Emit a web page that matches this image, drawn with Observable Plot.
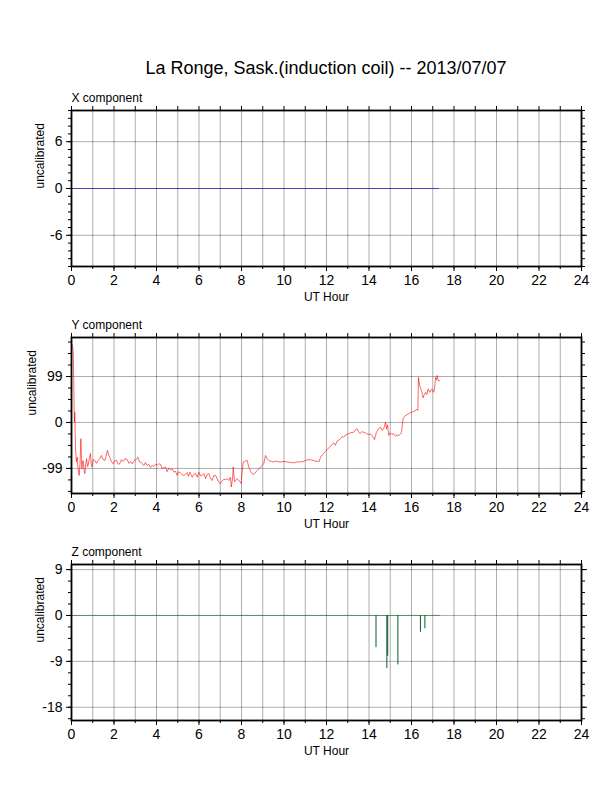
<!DOCTYPE html>
<html><head><meta charset="utf-8">
<script src="https://cdn.jsdelivr.net/npm/d3@7"></script>
<script src="https://cdn.jsdelivr.net/npm/@observablehq/plot@0.6"></script>
<style>
body{margin:0;background:#fff;font-family:"Liberation Sans",Arial,sans-serif;}
#wrap{position:relative;width:612px;height:792px;overflow:hidden;}
#title{position:absolute;left:71px;top:58px;width:510px;text-align:center;font-size:18px;line-height:20px;color:#000;}
.panel{position:absolute;left:0;}
</style></head><body>
<div id="wrap"><div id="title">La Ronge, Sask.(induction coil) -- 2013/07/07</div></div>
<script>
// ---- data ----
const hourTicks = [0,2,4,6,8,10,12,14,16,18,20,22,24];
const titles = ["X component","Y component","Z component"];

// X component (flat zero)
const xHours = [0, 17.27];
const xValues = [0, 0];
const xYTicks = [-6, 0, 6];

// Y component
const yHours = [0.00,0.05,0.08,0.11,0.125,0.14,0.155,0.17,0.20,0.235,0.27,0.31,0.36,0.40,0.44,0.47,0.49,0.52,0.55,0.60,0.63,0.67,0.71,0.75,0.78,0.83,0.89,0.93,0.97,1.02,1.10,1.17,1.25,1.33,1.41,1.49,1.57,1.63,1.69,1.75,1.80,1.88,1.96,2.04,2.12,2.20,2.27,2.35,2.43,2.52,2.62,2.70,2.78,2.86,2.95,3.04,3.12,3.20,3.25,3.33,3.40,3.48,3.56,3.64,3.72,3.80,3.87,3.95,4.03,4.11,4.19,4.27,4.35,4.42,4.50,4.58,4.66,4.74,4.82,4.90,4.97,5.05,5.13,5.20,5.28,5.36,5.44,5.50,5.57,5.62,5.68,5.75,5.84,5.92,5.99,6.07,6.15,6.23,6.31,6.38,6.46,6.54,6.62,6.70,6.78,6.86,6.93,7.01,7.09,7.17,7.25,7.33,7.40,7.48,7.52,7.58,7.61,7.67,7.72,7.80,7.88,7.95,7.99,8.03,8.08,8.14,8.20,8.27,8.34,8.39,8.45,8.50,8.58,8.66,8.73,8.81,8.89,8.97,9.05,9.13,9.20,9.28,9.40,9.52,9.63,9.75,9.84,10.0,10.15,10.3,10.46,10.6,10.78,10.9,11.0,11.17,11.3,11.4,11.5,11.56,11.64,11.72,11.80,11.87,11.95,12.05,12.16,12.27,12.35,12.42,12.50,12.58,12.66,12.74,12.81,12.9,13.05,13.15,13.28,13.36,13.44,13.50,13.57,13.66,13.76,13.88,13.99,14.08,14.15,14.26,14.35,14.45,14.54,14.62,14.70,14.78,14.82,14.87,14.93,15.0,15.08,15.15,15.25,15.32,15.40,15.48,15.53,15.60,15.66,15.72,15.80,15.87,15.95,16.03,16.11,16.18,16.24,16.30,16.33,16.38,16.46,16.50,16.55,16.60,16.66,16.72,16.78,16.86,16.92,16.97,17.03,17.05,17.10,17.13,17.18,17.21,17.26,17.33];
const yValues = [170,166,151,80,22,1,22,-21,-64,-85,-75,-100,-114,-90,-35,-80,-100,-85,-82,-105,-110,-90,-78,-95,-93,-80,-67,-90,-96,-80,-82,-88,-82,-78,-71,-80,-82,-72,-60,-70,-75,-84,-89,-82,-82,-90,-89,-80,-84,-78,-80,-88,-84,-89,-82,-80,-75,-85,-85,-89,-93,-86,-93,-90,-97,-92,-95,-90,-92,-89,-90,-100,-97,-96,-106,-98,-102,-100,-107,-105,-114,-106,-109,-112,-114,-112,-108,-116,-107,-112,-118,-112,-110,-118,-107,-115,-114,-110,-121,-112,-110,-120,-125,-114,-114,-122,-128,-132,-125,-123,-123,-121,-125,-118,-139,-120,-96,-128,-125,-121,-126,-128,-132,-107,-85,-85,-82,-82,-96,-100,-108,-110,-112,-107,-104,-100,-96,-93,-88,-71,-78,-82,-84,-85,-83,-85,-85,-84,-85,-86,-87,-85,-85,-84,-82,-80,-81,-82,-84,-83,-85,-75,-70,-67,-62,-57,-53,-47,-44,-49,-40,-38,-35,-30,-32,-27,-24,-22,-21,-16,-14,-19,-24,-20,-21,-24,-26,-25,-28,-37,-21,-14,-10,-17,-12,1,-14,-5,-28,-22,-26,-24,-30,-27,-28,-25,-21,8,12,15,17,19,21,22,24,25,29,26,97,80,69,63,53,60,65,60,72,65,70,72,66,65,80,97,92,101,90,90];
const yYTicks = [-99, 0, 99];

// Z component: flat zero trace plus negative spikes
const zHours = [0, 17.33];
const zValues = [0, 0];
const zSpikeHours = [14.33, 14.84, 14.88, 15.36, 16.42, 16.63];
const zSpikeValues = [-6.3, -10.4, -8.0, -9.7, -3.3, -2.6];
const zYTicks = [-18, -9, 0, 9];

// ---- drawing ----
const FONT = "'Liberation Sans', Arial, Helvetica, sans-serif";
function panel({top, yDomain, yTicks, yMinor, title, ylabelDx, marks}) {
  const svg = Plot.plot({
    width: 612, height: 227,
    marginLeft: 71, marginRight: 31, marginTop: 30, marginBottom: 41,
    style: {fontFamily: FONT, fontSize: "12px", color: "#000", background: "#fff"},
    x: {domain: [0, 24]},
    y: {domain: yDomain},
    marks: [
      Plot.gridX(d3.range(0, 25, 1), {stroke: "#000", strokeOpacity: 0.32, strokeWidth: 1}),
      Plot.gridY(yTicks, {stroke: "#000", strokeOpacity: 0.32, strokeWidth: 1}),
      ...marks,
      Plot.frame({stroke: "#000", strokeWidth: 1.8}),
      Plot.axisX(hourTicks, {anchor: "bottom", tickSize: 5, tickPadding: 4, fontSize: 14, label: null, tickFormat: d => String(d)}),
      Plot.axisX(d3.range(0, 25, 1), {anchor: "bottom", tickSize: 3, text: null, label: null}),
      Plot.axisX(d3.range(0, 25, 1), {anchor: "top", tickSize: 5, text: null, label: null}),
      Plot.axisY(yTicks, {anchor: "left", tickSize: 5, tickPadding: 4, fontSize: 14, label: null, tickFormat: d => String(d)}),
      Plot.axisY(yMinor, {anchor: "left", tickSize: 3, text: null, label: null}),
      Plot.axisY(yTicks, {anchor: "right", tickSize: 5, text: null, label: null}),
      Plot.axisY(yMinor, {anchor: "right", tickSize: 3, text: null, label: null}),
      Plot.text([title], {frameAnchor: "top-left", dy: -12, lineAnchor: "middle", textAnchor: "start", fontSize: 12, fill: "#000"}),
      Plot.text(["UT Hour"], {frameAnchor: "bottom", dy: 31, lineAnchor: "middle", fontSize: 12, fill: "#000"}),
      Plot.text(["uncalibrated"], {frameAnchor: "left", dx: ylabelDx, lineAnchor: "middle", rotate: -90, fontSize: 12, fill: "#000"})
    ]
  });
  svg.classList.add("panel");
  svg.style.top = top + "px";
  document.getElementById("wrap").appendChild(svg);
}

panel({
  top: 80, yDomain: [-10, 10], yTicks: xYTicks,
  yMinor: d3.range(-10, 11, 1), title: titles[0], ylabelDx: -31,
  marks: [
    Plot.line(xHours.map((h, i) => ({h, v: xValues[i]})), {x: "h", y: "v", stroke: "#1a1acc", strokeWidth: 0.7})
  ]
});

panel({
  top: 307, yDomain: [-153, 183], yTicks: yYTicks,
  yMinor: d3.range(-6, 8).map(i => i * 24.75), title: titles[1], ylabelDx: -39,
  marks: [
    Plot.line(yHours.map((h, i) => ({h, v: yValues[i]})), {x: "h", y: "v", stroke: "#ff0000", strokeWidth: 0.6})
  ]
});

panel({
  top: 534, yDomain: [-20.6, 10], yTicks: zYTicks,
  yMinor: d3.range(-9, 5).map(i => i * 2.25), title: titles[2], ylabelDx: -31,
  marks: [
    Plot.line(zHours.map((h, i) => ({h, v: zValues[i]})), {x: "h", y: "v", stroke: "#2f6f4f", strokeWidth: 0.6}),
    Plot.ruleX(zSpikeHours.map((h, i) => ({h, v: zSpikeValues[i]})), {x: "h", y1: 0, y2: "v", stroke: "#0a5a2a", strokeWidth: 1})
  ]
});
</script>
</body></html>
